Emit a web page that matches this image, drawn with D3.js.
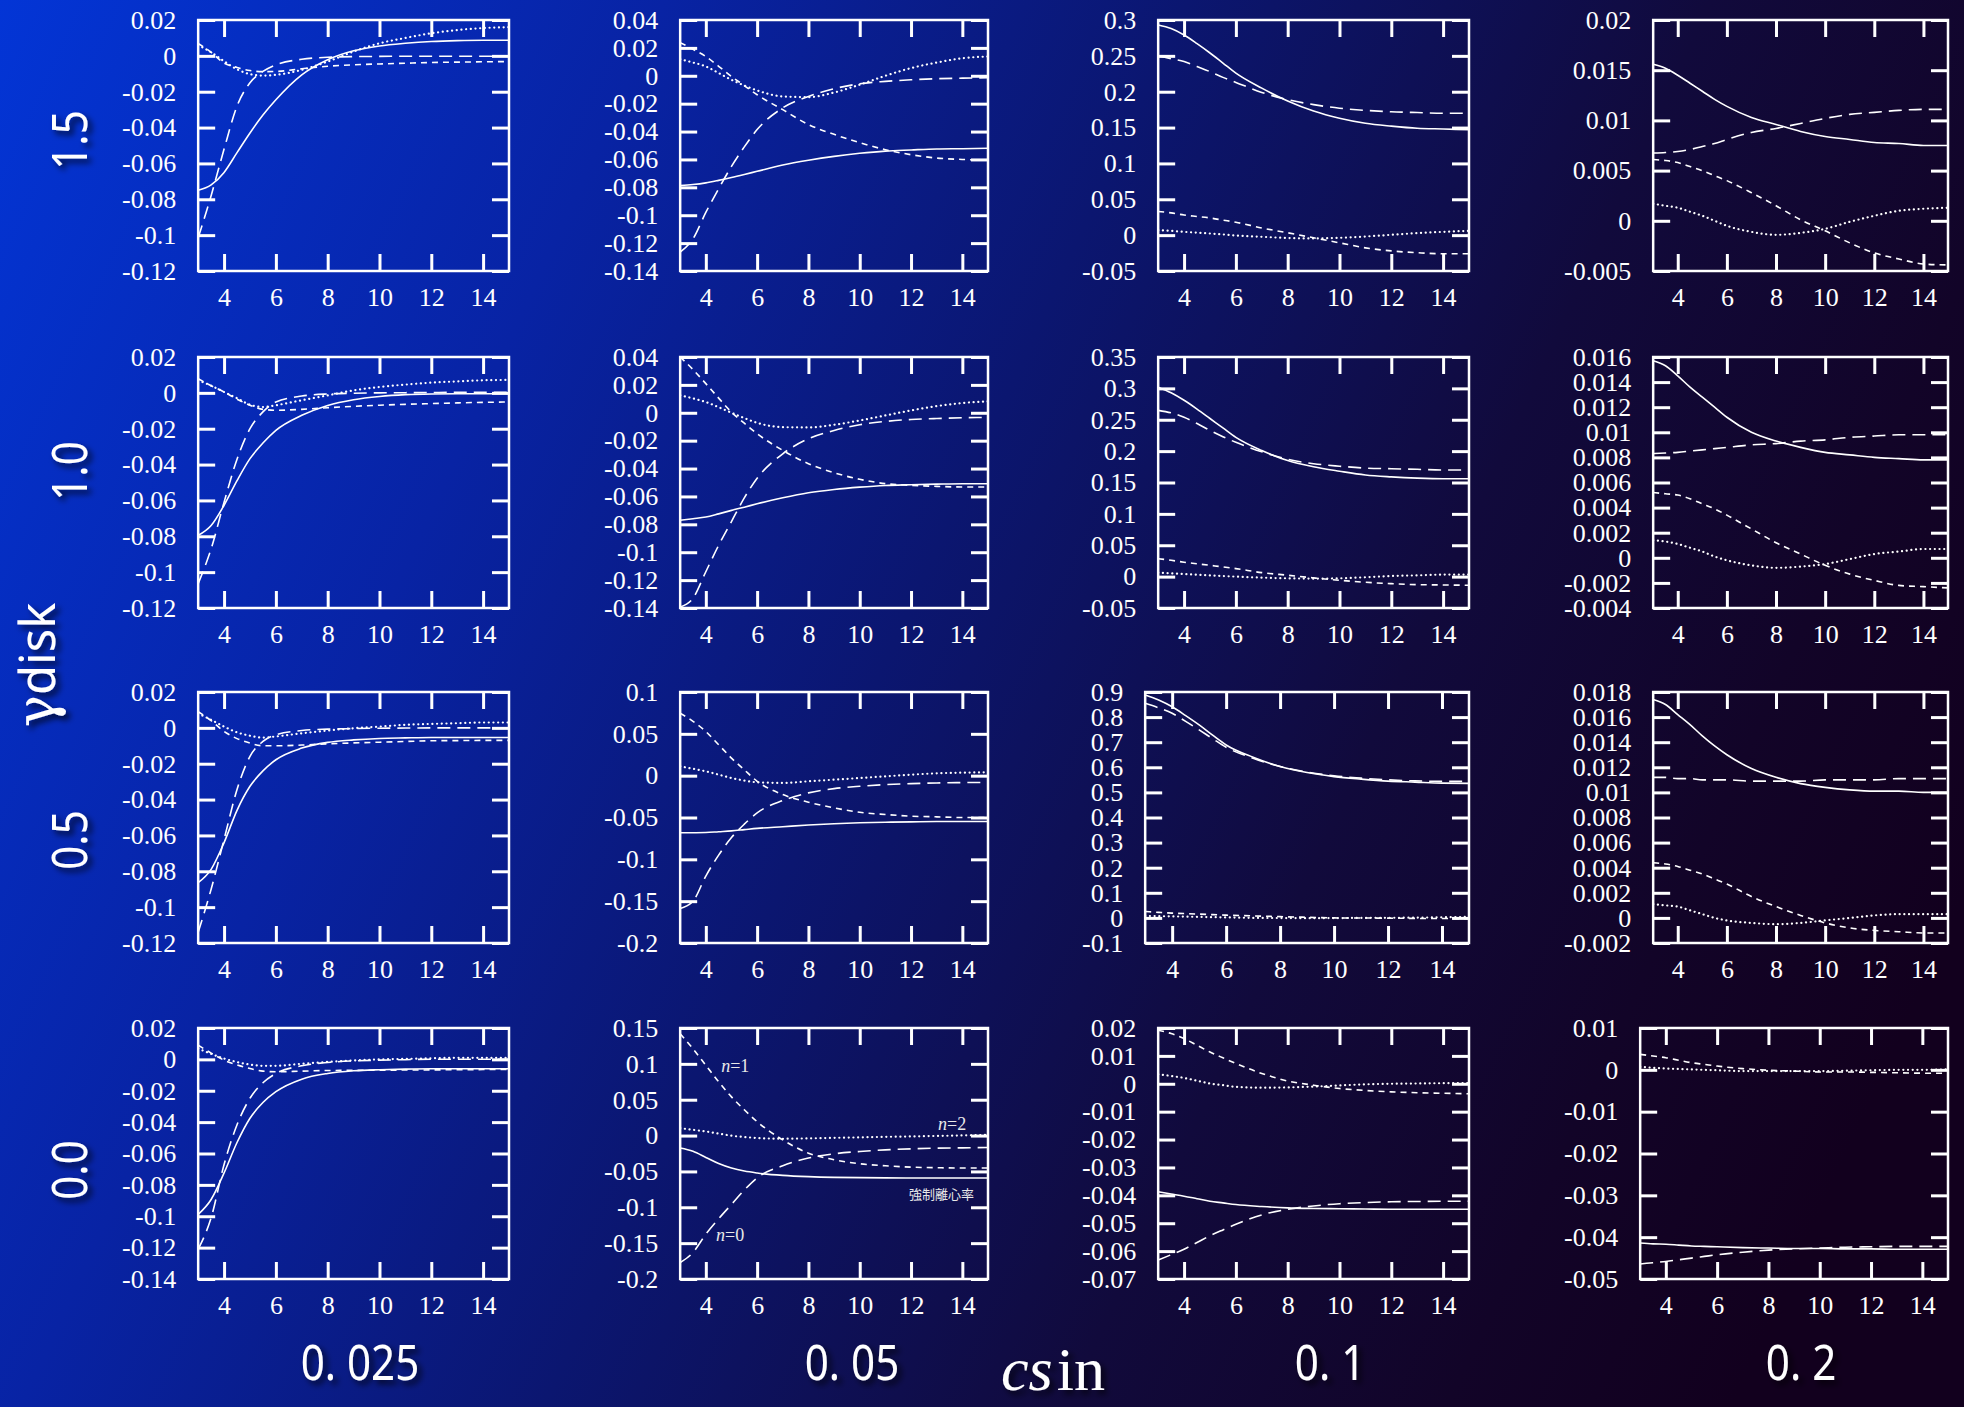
<!DOCTYPE html>
<html>
<head>
<meta charset="utf-8">
<script src="https://cdnjs.cloudflare.com/ajax/libs/d3/7.8.5/d3.min.js"></script>
<style>
  body { margin: 0; background: #000; }
  svg { display: block; }
</style>
</head>
<body>
<div id="chart"></div>
<script>
// sample points along r (same for every curve)
var xGrid  = [3, 3.5, 4, 4.5, 5, 5.5, 6, 7, 8, 9, 10, 11, 12, 13, 14, 15];
var xTicks = [4, 6, 8, 10, 12, 14];

var csLabels    = ["0. 025", "0. 05", "0. 1", "0. 2"];
var gammaLabels = ["1.5", "1.0", "0.5", "0.0"];

// y axis [min, max, step] per column
var yRange_g15 = [[-0.12, 0.02, 0.02], [-0.14, 0.04, 0.02], [-0.05, 0.3, 0.05], [-0.005, 0.02, 0.005]];
var yRange_g10 = [[-0.12, 0.02, 0.02], [-0.14, 0.04, 0.02], [-0.05, 0.35, 0.05], [-0.004, 0.016, 0.002]];
var yRange_g05 = [[-0.12, 0.02, 0.02], [-0.2, 0.1, 0.05], [-0.1, 0.9, 0.1], [-0.002, 0.018, 0.002]];
var yRange_g00 = [[-0.14, 0.02, 0.02], [-0.2, 0.15, 0.05], [-0.07, 0.02, 0.01], [-0.05, 0.01, 0.01]];

// forced eccentricity (solid), n=0 (long dash), n=1 (short dash), n=2 (dotted)
var forced_g15 = [
  [-0.075, -0.072, -0.065, -0.054, -0.043, -0.033, -0.0245, -0.0106, -0.0022, 0.0028, 0.0055, 0.007, 0.008, 0.0085, 0.0087, 0.0087],
  [-0.0787, -0.078, -0.0768, -0.075, -0.073, -0.0708, -0.0685, -0.064, -0.0606, -0.0578, -0.0556, -0.054, -0.0532, -0.0525, -0.0523, -0.052],
  [0.293, 0.288, 0.279, 0.267, 0.254, 0.240, 0.226, 0.205, 0.187, 0.173, 0.163, 0.156, 0.152, 0.149, 0.148, 0.147],
  [0.0156, 0.0152, 0.0145, 0.0137, 0.0129, 0.0121, 0.0114, 0.0103, 0.0096, 0.0089, 0.0084, 0.0081, 0.0078, 0.0077, 0.0075, 0.0075]
];
var n0_g15 = [
  [-0.1015, -0.078, -0.052, -0.028, -0.015, -0.0087, -0.005, -0.0019, -0.0008, -0.0004, -0.0003, -0.0002, -0.0002, -0.0002, -0.0002, -0.0002],
  [-0.1264, -0.117, -0.098, -0.081, -0.065, -0.051, -0.0386, -0.023, -0.0148, -0.0093, -0.0057, -0.004, -0.0029, -0.0021, -0.0017, -0.0014],
  [0.25, 0.246, 0.242, 0.235, 0.228, 0.220, 0.213, 0.199, 0.189, 0.182, 0.177, 0.174, 0.172, 0.171, 0.170, 0.170],
  [0.00675, 0.0068, 0.0069, 0.0071, 0.0074, 0.0077, 0.0081, 0.0088, 0.0092, 0.0097, 0.0102, 0.0106, 0.0108, 0.011, 0.0111, 0.0111]
];
var n1_g15 = [
  [0.007, 0.002, -0.004, -0.0065, -0.0082, -0.0088, -0.0087, -0.0072, -0.0058, -0.005, -0.0045, -0.0041, -0.0037, -0.0035, -0.0033, -0.0032],
  [0.0238, 0.019, 0.0138, 0.0068, -0.0005, -0.007, -0.0136, -0.0243, -0.035, -0.042, -0.048, -0.053, -0.0566, -0.059, -0.060, -0.0606],
  [0.033, 0.031, 0.028, 0.026, 0.024, 0.021, 0.018, 0.010, 0.0033, -0.0037, -0.0107, -0.0177, -0.022, -0.0245, -0.026, -0.026],
  [0.0061, 0.006, 0.0058, 0.0054, 0.005, 0.0045, 0.004, 0.0028, 0.0015, 0.0001, -0.001, -0.0022, -0.0032, -0.0038, -0.0043, -0.0044]
];
var n2_g15 = [
  [0.006, 0.002, -0.003, -0.0075, -0.0102, -0.011, -0.0106, -0.0078, -0.0032, 0.0024, 0.007, 0.010, 0.0126, 0.0144, 0.0155, 0.016],
  [0.0119, 0.0095, 0.0067, 0.002, -0.0029, -0.007, -0.0105, -0.0148, -0.0153, -0.012, -0.0064, 0, 0.0055, 0.0095, 0.0126, 0.0138],
  [0.007, 0.006, 0.0046, 0.0035, 0.0023, 0.001, -0.0005, -0.0023, -0.004, -0.0046, -0.0037, -0.0019, 0.0005, 0.0028, 0.0046, 0.006],
  [0.0017, 0.0015, 0.0013, 0.0009, 0.0005, 0, -0.0005, -0.0011, -0.0014, -0.0012, -0.0008, -0.0001, 0.0005, 0.001, 0.0012, 0.0013]
];

var forced_g10 = [
  [-0.0795, -0.074, -0.0627, -0.049, -0.0367, -0.028, -0.0209, -0.0125, -0.007, -0.0038, -0.002, -0.001, -0.0006, -0.0005, -0.0005, -0.0005],
  [-0.0771, -0.076, -0.0748, -0.0725, -0.070, -0.0677, -0.0653, -0.061, -0.0574, -0.055, -0.0533, -0.0521, -0.0516, -0.0512, -0.0509, -0.0509],
  [0.302, 0.293, 0.281, 0.267, 0.252, 0.237, 0.222, 0.201, 0.185, 0.175, 0.168, 0.162, 0.159, 0.157, 0.156, 0.156],
  [0.0157, 0.0153, 0.0145, 0.0136, 0.0128, 0.012, 0.0112, 0.01, 0.0093, 0.0088, 0.0084, 0.0082, 0.008, 0.0079, 0.0078, 0.0078]
];
var n0_g10 = [
  [-0.1064, -0.087, -0.061, -0.037, -0.020, -0.0106, -0.0051, -0.0018, -0.0006, -0.0002, 0, 0.0001, 0.0002, 0.0003, 0.0003, 0.0003],
  [-0.1393, -0.133, -0.114, -0.095, -0.078, -0.061, -0.047, -0.0294, -0.0186, -0.0127, -0.0086, -0.0062, -0.0048, -0.0041, -0.0036, -0.0033],
  [0.265, 0.261, 0.254, 0.244, 0.233, 0.223, 0.214, 0.199, 0.187, 0.180, 0.176, 0.173, 0.172, 0.171, 0.170, 0.170],
  [0.0083, 0.00835, 0.0084, 0.0085, 0.0086, 0.0087, 0.0088, 0.009, 0.0091, 0.0093, 0.0094, 0.0096, 0.0097, 0.0098, 0.0098, 0.0098]
];
var n1_g10 = [
  [0.0079, 0.004, 0.0005, -0.0035, -0.0069, -0.0092, -0.0097, -0.0092, -0.0083, -0.0075, -0.0069, -0.0064, -0.006, -0.0056, -0.0053, -0.0051],
  [0.04, 0.031, 0.0209, 0.0105, 0.0005, -0.0075, -0.015, -0.027, -0.0365, -0.043, -0.0477, -0.0508, -0.052, -0.0528, -0.0532, -0.0532],
  [0.0286, 0.026, 0.023, 0.0205, 0.018, 0.0155, 0.0128, 0.0064, 0.0022, -0.002, -0.0058, -0.009, -0.0112, -0.0128, -0.0133, -0.0138],
  [0.0052, 0.0051, 0.005, 0.0047, 0.0043, 0.0039, 0.0034, 0.0023, 0.0012, 0.0003, -0.0006, -0.0013, -0.0018, -0.0022, -0.0023, -0.0024]
];
var n2_g10 = [
  [0.007, 0.004, 0.0005, -0.003, -0.0066, -0.0079, -0.0069, -0.0041, -0.0014, 0.0014, 0.0033, 0.0046, 0.0057, 0.0064, 0.007, 0.0072],
  [0.0125, 0.0103, 0.0077, 0.004, 0, -0.0038, -0.0072, -0.0103, -0.0105, -0.0086, -0.0055, -0.0019, 0.0017, 0.0048, 0.007, 0.0082],
  [0.0063, 0.0053, 0.0042, 0.0031, 0.002, 0.001, 0, -0.0016, -0.0027, -0.0032, -0.0027, -0.001, 0.001, 0.002, 0.0032, 0.0032],
  [0.0014, 0.0013, 0.0011, 0.0008, 0.0005, 0.0001, -0.0002, -0.0006, -0.0008, -0.0007, -0.0005, -0.0001, 0.0003, 0.0005, 0.0007, 0.0007]
];

var forced_g05 = [
  [-0.0863, -0.0789, -0.064, -0.046, -0.0326, -0.024, -0.0178, -0.0113, -0.0081, -0.0067, -0.0059, -0.0056, -0.0054, -0.0054, -0.0054, -0.0054],
  [-0.0683, -0.0682, -0.068, -0.067, -0.066, -0.0645, -0.063, -0.061, -0.059, -0.0575, -0.0563, -0.0556, -0.0552, -0.0548, -0.0548, -0.0548],
  [0.888, 0.868, 0.841, 0.806, 0.769, 0.728, 0.689, 0.640, 0.603, 0.579, 0.563, 0.553, 0.545, 0.541, 0.537, 0.536],
  [0.0174, 0.017, 0.0162, 0.0154, 0.0145, 0.0137, 0.013, 0.0119, 0.0112, 0.0107, 0.0104, 0.0102, 0.0101, 0.0101, 0.01, 0.01]
];
var n0_g05 = [
  [-0.114, -0.09, -0.0622, -0.0344, -0.0159, -0.0076, -0.0039, -0.0015, -0.0007, -0.0004, -0.0002, -0.0001, 0, 0, 0, 0],
  [-0.1587, -0.15, -0.12, -0.095, -0.074, -0.058, -0.0444, -0.0298, -0.0206, -0.0155, -0.0127, -0.0107, -0.0095, -0.0087, -0.0083, -0.008],
  [0.855, 0.837, 0.815, 0.783, 0.749, 0.714, 0.68, 0.636, 0.603, 0.581, 0.566, 0.557, 0.55, 0.546, 0.544, 0.544],
  [0.0112, 0.0112, 0.0111, 0.0111, 0.011, 0.011, 0.011, 0.0109, 0.0109, 0.0109, 0.011, 0.011, 0.011, 0.0111, 0.0111, 0.0111]
];
var n1_g05 = [
  [0.0091, 0.004, -0.002, -0.006, -0.0085, -0.01, -0.01, -0.0096, -0.0089, -0.0084, -0.008, -0.0076, -0.0072, -0.0071, -0.007, -0.007],
  [0.0746, 0.065, 0.0528, 0.037, 0.021, 0.007, -0.0067, -0.0226, -0.0317, -0.0385, -0.0437, -0.0464, -0.0484, -0.0492, -0.05, -0.05],
  [0.0257, 0.022, 0.019, 0.017, 0.015, 0.013, 0.011, 0.008, 0.005, 0.0025, 0, -0.0005, -0.001, -0.002, -0.0025, -0.003],
  [0.0044, 0.0043, 0.0041, 0.0038, 0.0035, 0.0031, 0.0027, 0.0017, 0.0009, 0.0002, -0.0004, -0.0008, -0.001, -0.0011, -0.0012, -0.0012]
];
var n2_g05 = [
  [0.008, 0.0045, 0.0007, -0.0025, -0.0044, -0.0054, -0.0048, -0.003, -0.0015, -0.0002, 0.0007, 0.0017, 0.0022, 0.0026, 0.003, 0.003],
  [0.0111, 0.0083, 0.0052, 0.0012, -0.0028, -0.0058, -0.0079, -0.0087, -0.0067, -0.0048, -0.0028, -0.0008, 0.0012, 0.0028, 0.0036, 0.004],
  [0.0079, 0.007, 0.006, 0.005, 0.004, 0.003, 0.002, 0, -0.0005, -0.001, -0.0008, 0, 0.0005, 0.001, 0.0025, 0.004],
  [0.0011, 0.001, 0.0009, 0.0006, 0.0003, 0, -0.0002, -0.0004, -0.0005, -0.0004, -0.0002, 0, 0.0002, 0.0003, 0.0003, 0.0003]
];

var forced_g00 = [
  [-0.0988, -0.0893, -0.0724, -0.053, -0.0375, -0.0275, -0.0206, -0.0126, -0.009, -0.0073, -0.0066, -0.0062, -0.006, -0.006, -0.006, -0.006],
  [-0.0174, -0.022, -0.0305, -0.039, -0.0453, -0.0495, -0.0522, -0.0555, -0.0573, -0.0583, -0.0587, -0.059, -0.0592, -0.0592, -0.0592, -0.0592],
  [-0.0387, -0.0395, -0.0403, -0.0412, -0.0421, -0.0427, -0.0433, -0.044, -0.0445, -0.0447, -0.0448, -0.0449, -0.045, -0.045, -0.045, -0.045],
  [-0.0414, -0.0416, -0.0417, -0.0419, -0.0421, -0.0422, -0.0423, -0.0425, -0.0426, -0.0427, -0.0427, -0.0428, -0.0428, -0.0429, -0.0429, -0.0429]
];
var n0_g00 = [
  [-0.121, -0.101, -0.067, -0.0417, -0.0248, -0.0149, -0.009, -0.0041, -0.002, -0.001, -0.0005, -0.0002, 0.0001, 0.0001, 0.0001, 0.0001],
  [-0.177, -0.163, -0.1376, -0.116, -0.096, -0.076, -0.059, -0.042, -0.0314, -0.0254, -0.0222, -0.0199, -0.0185, -0.0176, -0.0171, -0.0166],
  [-0.0632, -0.0613, -0.0593, -0.0569, -0.0545, -0.0524, -0.0504, -0.047, -0.045, -0.0438, -0.043, -0.0426, -0.0423, -0.0422, -0.0421, -0.0421],
  [-0.0464, -0.0461, -0.0458, -0.0454, -0.045, -0.0446, -0.0442, -0.0436, -0.0431, -0.0428, -0.0426, -0.0424, -0.0423, -0.0422, -0.0422, -0.0422]
];
var n1_g00 = [
  [0.009, 0.004, -0.0005, -0.0035, -0.0058, -0.0075, -0.0079, -0.0075, -0.0071, -0.007, -0.0069, -0.0068, -0.0067, -0.0066, -0.0065, -0.0065],
  [0.142, 0.121, 0.098, 0.075, 0.054, 0.036, 0.0194, -0.006, -0.0245, -0.0337, -0.0393, -0.0421, -0.044, -0.0448, -0.0453, -0.0453],
  [0.0192, 0.018, 0.0162, 0.0138, 0.0114, 0.0093, 0.0073, 0.0037, 0.001, -0.0005, -0.0017, -0.0024, -0.0029, -0.0032, -0.0034, -0.0036],
  [0.0037, 0.0033, 0.0029, 0.0023, 0.0017, 0.0013, 0.0009, 0.0003, -0.0001, -0.0003, -0.0005, -0.0005, -0.0006, -0.0007, -0.0008, -0.0008]
];
var n2_g00 = [
  [0.0069, 0.0035, 0.0005, -0.0017, -0.0033, -0.0041, -0.0041, -0.0028, -0.0016, -0.0007, 0, 0.0003, 0.0007, 0.001, 0.001, 0.001],
  [0.0104, 0.008, 0.0058, 0.0028, -0.0002, -0.002, -0.0034, -0.0044, -0.0039, -0.0032, -0.0025, -0.0018, -0.0012, -0.0005, 0.0002, 0.0011],
  [0.0034, 0.0028, 0.0021, 0.0011, 0.0001, -0.0005, -0.0011, -0.0014, -0.0013, -0.001, -0.0006, -0.0002, 0, 0.0001, 0.0002, 0.0002],
  [0.0007, 0.0005, 0.0003, 0.0002, 0.0001, 0, -0.0001, -0.0003, -0.0003, -0.0003, -0.0003, -0.0002, -0.0001, 0, 0, 0.0001]
];

// curve labels in the gamma=0.0, cs=0.05 panel, in data units
var noteText   = ["1", "2", "0", "強制離心率"];
var noteX      = [4.6, 14.15, 4.4, 14.45];
var noteY      = [0.089, 0.008, -0.147, -0.089];

var W = 1964, H = 1407;
var colOrigin = [122, 604, 1082, 1564];   // left edge of the y tick labels
var colRight  = [509, 988, 1469, 1948];
var rowTop    = [20, 357, 692, 1028];
var plotH     = 251;
var tickLen   = 17;
var labelGap  = 22;
var tickFont  = "'Liberation Serif', 'Times New Roman', serif";
var bigFont   = "'Noto Sans', 'DejaVu Sans', sans-serif";

var rows = [
  {range: yRange_g15, series: [forced_g15, n0_g15, n1_g15, n2_g15]},
  {range: yRange_g10, series: [forced_g10, n0_g10, n1_g10, n2_g10]},
  {range: yRange_g05, series: [forced_g05, n0_g05, n1_g05, n2_g05]},
  {range: yRange_g00, series: [forced_g00, n0_g00, n1_g00, n2_g00]}
];
var dashes = [null, "13,7", "6,5", "0.1,4.6"];

var svg = d3.select("#chart").append("svg")
  .attr("width", W)
  .attr("height", H);

var defs = svg.append("defs");

var grad = defs.append("linearGradient")
  .attr("id", "bg")
  .attr("gradientUnits", "userSpaceOnUse")
  .attr("x1", 0).attr("y1", 0)
  .attr("x2", W).attr("y2", 900);
[[0, "#0335d6"], [0.28, "#0823a4"], [0.5, "#0b1670"], [0.72, "#110a3c"], [0.88, "#120428"], [1, "#12001e"]]
  .forEach(function(s) {
    grad.append("stop").attr("offset", s[0]).attr("stop-color", s[1]);
  });

var shadow = defs.append("filter")
  .attr("id", "shadow")
  .attr("x", "-20%").attr("y", "-20%")
  .attr("width", "150%").attr("height", "150%");
shadow.append("feDropShadow")
  .attr("dx", 4).attr("dy", 4)
  .attr("stdDeviation", 3)
  .attr("flood-color", "#000")
  .attr("flood-opacity", 0.75);

svg.append("rect")
  .attr("width", W)
  .attr("height", H)
  .attr("fill", "url(#bg)");

function fmt(v) { return String(+v.toFixed(6)); }

function draw_panel(r, c, range, series)
{
  var n = Math.round((range[1] - range[0]) / range[2]);
  var yTicks = d3.range(n + 1).map(function(i) { return +(range[0] + i * range[2]).toFixed(6); });

  var y = d3.scaleLinear()
    .domain([range[0], range[1]])
    .range([rowTop[r] + plotH, rowTop[r]]);

  var g = svg.append("g").attr("class", "panel");

  // left axis first, so the tick label widths fix the frame's left edge
  var left = g.append("g")
    .call(d3.axisLeft(y).tickValues(yTicks).tickFormat(fmt).tickSize(-tickLen).tickPadding(labelGap));
  left.attr("font-family", tickFont).attr("font-size", 26);
  var maxW = d3.max(left.selectAll("text").nodes(), function(t) { return t.getComputedTextLength(); });
  var x0 = colOrigin[c] + maxW + labelGap;
  left.attr("transform", "translate(" + x0 + ",0)");

  var x = d3.scaleLinear().domain([3, 15]).range([x0, colRight[c]]);

  var right = g.append("g")
    .attr("transform", "translate(" + colRight[c] + ",0)")
    .call(d3.axisRight(y).tickValues(yTicks).tickFormat("").tickSize(-tickLen));
  var bottom = g.append("g")
    .attr("transform", "translate(0," + (rowTop[r] + plotH) + ")")
    .call(d3.axisBottom(x).tickValues(xTicks).tickFormat(fmt).tickSize(-tickLen).tickPadding(17));
  bottom.attr("font-family", tickFont).attr("font-size", 26);
  var top = g.append("g")
    .attr("transform", "translate(0," + rowTop[r] + ")")
    .call(d3.axisTop(x).tickValues(xTicks).tickFormat("").tickSize(-tickLen));

  [left, right, bottom, top].forEach(function(a) {
    a.select(".domain").remove();
    a.attr("color", "#fff");
    a.selectAll("line").attr("stroke-width", 3);
    a.selectAll("text").attr("fill", "#fff");
  });

  var clipId = "clip" + r + c;
  defs.append("clipPath").attr("id", clipId)
    .append("rect")
    .attr("x", x0).attr("y", rowTop[r])
    .attr("width", colRight[c] - x0).attr("height", plotH);

  var line = d3.line()
    .x(function(d, i) { return x(xGrid[i]); })
    .y(function(d) { return y(d); })
    .curve(d3.curveMonotoneX);

  g.append("g")
    .attr("clip-path", "url(#" + clipId + ")")
    .selectAll("path")
    .data(series)
    .enter()
    .append("path")
      .attr("d", function(s) { return line(s[c]); })
      .attr("fill", "none")
      .attr("stroke", "#fff")
      .attr("stroke-width", function(s, i) { return i == 3 ? 2.2 : 1.6; })
      .attr("stroke-linecap", function(s, i) { return i == 3 ? "round" : "butt"; })
      .attr("stroke-dasharray", function(s, i) { return dashes[i]; });

  g.append("rect")
    .attr("x", x0)
    .attr("y", rowTop[r])
    .attr("width", colRight[c] - x0)
    .attr("height", plotH)
    .attr("fill", "none")
    .attr("stroke", "#fff")
    .attr("stroke-width", 2.5);

  return {x: x, y: y, g: g};
}

var panels = [];
rows.forEach(function(row, r) {
  panels.push(row.range.map(function(range, c) {
    return draw_panel(r, c, range, row.series);
  }));
});

// curve labels
var notePanel = panels[3][1];
notePanel.g.selectAll("text.note")
  .data(noteText)
  .enter()
  .append("text")
    .attr("class", "note")
    .attr("x", function(d, i) { return notePanel.x(noteX[i]); })
    .attr("y", function(d, i) { return notePanel.y(noteY[i]); })
    .attr("text-anchor", function(d, i) { return (i == 1 || i == 3) ? "end" : "start"; })
    .attr("fill", "#e8e8e8")
    .each(function(d, i) {
      var t = d3.select(this);
      if (i == 3) {
        t.attr("font-family", "'Noto Sans CJK JP', sans-serif").attr("font-size", 13).text(d);
      } else {
        t.attr("font-family", tickFont).attr("font-size", 18);
        t.append("tspan").attr("font-style", "italic").text("n");
        t.append("tspan").text("=" + d);
      }
    });

// column labels (cs,in values)
var colCenter = [360, 852, 1330, 1801];
svg.selectAll("g.collab")
  .data(csLabels)
  .enter()
  .append("g")
    .attr("class", "collab")
    .attr("filter", "url(#shadow)")
  .append("text")
    .attr("transform", function(d, i) { return "translate(" + colCenter[i] + ",1380) scale(0.86,1)"; })
    .attr("text-anchor", "middle")
    .attr("font-family", bigFont)
    .attr("font-size", 49)
    .attr("fill", "#fff")
    .text(function(d) { return d; });

// row labels (gamma_disk values)
var rowCenter = [140, 471, 840, 1170];
svg.selectAll("g.rowlab")
  .data(gammaLabels)
  .enter()
  .append("g")
    .attr("class", "rowlab")
    .attr("filter", "url(#shadow)")
  .append("text")
    .attr("transform", function(d, i) { return "translate(87," + rowCenter[i] + ") rotate(-90) scale(0.86,1)"; })
    .attr("text-anchor", "middle")
    .attr("font-family", bigFont)
    .attr("font-size", 49)
    .attr("fill", "#fff")
    .text(function(d) { return d; });

// axis titles
var gTitle = svg.append("g")
  .attr("filter", "url(#shadow)")
  .append("text")
    .attr("transform", "translate(55,665) rotate(-90)")
    .attr("text-anchor", "middle")
    .attr("font-size", 49)
    .attr("fill", "#fff");
gTitle.append("tspan").attr("font-family", "'DejaVu Serif', serif").attr("font-size", 54).text("γ");
gTitle.append("tspan").attr("font-family", bigFont).text("disk");

var csTitle = svg.append("g")
  .attr("filter", "url(#shadow)")
  .append("text")
    .attr("x", 1053)
    .attr("y", 1390)
    .attr("text-anchor", "middle")
    .attr("font-family", tickFont)
    .attr("font-size", 62)
    .attr("fill", "#fff");
csTitle.append("tspan").attr("font-style", "italic").text("cs");
csTitle.append("tspan").attr("dx", 4).text("in");
</script>
</body>
</html>
